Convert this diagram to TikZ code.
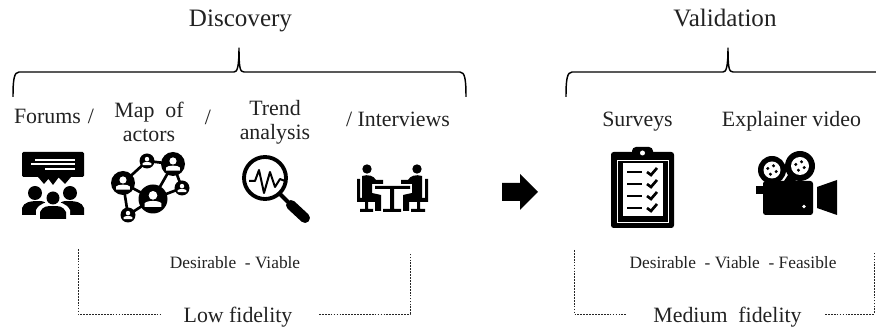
\documentclass[tikz,border=0pt]{standalone}
\usepackage{fontspec}
\setmainfont{Liberation Serif}
\usetikzlibrary{arrows.meta}
\definecolor{txt}{HTML}{222222}
\tikzset{
  x=0.75pt,y=-0.75pt,
  big/.style={font=\fontsize{18.8}{20}\selectfont,text=txt,inner sep=0pt,anchor=base},
  lab/.style={font=\fontsize{16.4}{18}\selectfont,text=txt,inner sep=0pt,align=center},
  fid/.style={font=\fontsize{16.4}{18}\selectfont,text=txt,inner sep=0pt,anchor=base},
  small/.style={font=\fontsize{13}{14}\selectfont,text=txt,inner sep=0pt,anchor=base},
  brace/.style={draw=black,line width=1.1pt,line join=round},
  dots/.style={draw=black!85,line width=0.7pt,dash pattern=on 1.3pt off 0.9pt},
  ink/.style={fill=black,draw=none},
  wht/.style={fill=white,draw=none},
  wl/.style={draw=white,line width=0.9pt},
  kl/.style={draw=black,line width=2pt},
}
\begin{document}
\begin{tikzpicture}
\useasboundingbox (0,0) rectangle (876,327);
% titles
\node[big] (disc) at (240.5,27) {Discovery};
\node[big] (valid) at (725,27) {Validation};
% braces
\coordinate (bl) at (13,97); \coordinate (br) at (466,97); \coordinate (bm) at (239,48);
\draw[brace] (bl) .. controls (13,80) and (14,72) .. (19,72) -- (234,72) .. controls (237,72) and (239,68) .. (bm) .. controls (239,68) and (240,72) .. (244,72) -- (460,72) .. controls (465,72) and (466,80) .. (br);
\coordinate (cl) at (566,97); \coordinate (cm) at (728,48); \coordinate (cr) at (876,72);
\draw[brace] (cl) .. controls (566,80) and (567,72) .. (572,72) -- (723,72) .. controls (726,72) and (728,68) .. (cm) .. controls (728,68) and (729,72) .. (733,72) -- (cr);
% labels
\node[lab,anchor=base] (l1) at (47.5,124) {Forums};
\node[lab,anchor=base] (s1) at (91,124) {/};
\node[lab] (l2) at (149,122) {Map\ \ of\\actors};
\node[lab,anchor=base] (s2) at (208,125) {/};
\node[lab] (l3) at (275,122.5) {Trend\\analysis};
\node[lab,anchor=base] (l4) at (398,127) {/ Interviews};
\node[lab,anchor=base] (l5) at (637.5,126.5) {Surveys};
\node[lab,anchor=base] (l6) at (791.5,126.5) {Explainer video};
% Forums icon
\fill[ink,rounded corners=1pt] (22,152) rectangle (84,177);
\fill[ink] (38,177) -- (44,184) -- (50,177) -- cycle (47,177) -- (53,185) -- (59,177) -- cycle (58,177) -- (65,184) -- (71,177) -- cycle;
\draw[wl] (35,160) -- (75,160) (31,164) -- (75,164) (45,169) -- (75,169);
\fill[ink] (35,193) circle (7); \fill[ink] (70,193) circle (7);
\fill[ink] (22,215) -- (22,208) .. controls (24,202) and (30,201) .. (40,201) .. controls (44,201) and (46,203) .. (48,205) -- (38,215) -- cycle;
\fill[ink] (84,215) -- (84,208) .. controls (82,202) and (76,201) .. (66,201) .. controls (62,201) and (60,203) .. (58,205) -- (68,215) -- cycle;
\fill[wht] (53,198) circle (9);
\fill[wht] (36,219) -- (36,210) .. controls (40,203) and (46,202) .. (53,202) .. controls (60,202) and (66,203) .. (70,210) -- (70,219) -- cycle;
\fill[ink] (53,198) circle (6.5);
\fill[ink] (40,219) -- (40,212) .. controls (43,206) and (47,206) .. (53,206) .. controls (59,206) and (63,206) .. (66,212) -- (66,219) -- cycle;
% Map of actors icon
\draw[kl] (123,183) -- (147,161) -- (173,164) -- (153,199) -- (128,215) -- (123,183) (123,183) -- (153,199) (173,164) -- (182,188) -- (153,199);
\foreach \px/\py/\pr in {123/183/12,147/161/7.5,173/164/12,182/188/7.5,153/199/14.5,128/215/7.5}{
  \fill[ink] (\px,\py) circle (\pr);
  \fill[wht] (\px,\py-0.25*\pr) circle (0.3*\pr);
  \fill[wht] (\px-0.58*\pr,\py+0.55*\pr) -- (\px-0.58*\pr,\py+0.3*\pr) .. controls (\px-0.45*\pr,\py+0.08*\pr) and (\px+0.45*\pr,\py+0.08*\pr) .. (\px+0.58*\pr,\py+0.3*\pr) -- (\px+0.58*\pr,\py+0.55*\pr) -- cycle;
}
% Trend icon
\draw[draw=black,line width=2.9pt] (265,178) circle (21);
\draw[line width=1.5pt,line join=round] (249,181) -- (255,181) -- (259,170) -- (264,193) -- (270,172) -- (275,187) -- (280,179) -- (285,181);
\draw[line width=3pt] (280,194) -- (288,202);
\draw[line width=7.5pt,line cap=round] (291,205) -- (305,218);
% Interviews icon
\fill[ink] (367,169) circle (4.7); \fill[ink] (417,169) circle (4.7);
\fill[ink] (362,176) .. controls (368,174) and (374,176) .. (376,180) -- (383,180) -- (383,184) -- (372,184) -- (372,193) -- (381,195) -- (381,211) -- (375,211) -- (375,198) -- (362,198) -- cycle;
\fill[ink] (357,179) rectangle (360,201) (357,198) rectangle (375,202);
\fill[ink] (365,202) rectangle (368,209) (360,209) rectangle (373,212);
\fill[ink] (422,176) .. controls (416,174) and (410,176) .. (408,180) -- (401,180) -- (401,184) -- (412,184) -- (412,193) -- (403,195) -- (403,211) -- (409,211) -- (409,198) -- (422,198) -- cycle;
\fill[ink] (428,179) rectangle (425,201) (428,198) rectangle (409,202);
\fill[ink] (420,202) rectangle (417,209) (425,209) rectangle (411,212);
\fill[ink] (375,186) rectangle (410,189) (390,189) rectangle (394,209) (383,209) rectangle (401,212);
% Arrow
\fill[ink] (502,183) -- (520,183) -- (520,174) -- (538,192) -- (520,210) -- (520,201) -- (502,201) -- cycle;
% Clipboard
\fill[ink,rounded corners=2pt] (611,152) rectangle (674,228);
\fill[ink,rounded corners=3pt] (632,147) rectangle (653,158);
\fill[wht] (642.5,153) circle (2.5);
\draw[white,line width=0.6pt] (617,160) rectangle (668,222);
\fill[wht] (623,163) rectangle (663,216);
\foreach \ty in {172,184,196,208}{
  \fill[ink] (627,\ty-1.2) rectangle (642,\ty+1.2);
  \draw[black,line width=2pt] (647,\ty) -- (651,\ty+3) -- (657,\ty-4);
}
% Camera
\fill[ink] (772,170) circle (14); \fill[ink] (800,166) circle (15);
\fill[wht] (772,170) circle (8.5); \fill[wht] (800,166) circle (9);
\foreach \cx/\cy in {772/170,800/166}{
  \foreach \ca in {0,90,180,270}{ \fill[ink] (\cx,\cy)++(\ca+20:4.5) circle (1.7); }
}
\fill[ink,rounded corners=2pt] (763,181) rectangle (813,215);
\fill[ink] (784,181) -- (790,172) -- (796,181) -- cycle;
\fill[ink] (756,186) rectangle (763,194);
\fill[wht] (804,206.5) circle (1.8);
\fill[ink] (817,187) -- (837,180) -- (837,215) -- (817,208) -- cycle;
% small text
\node[small] (d1) at (235,268.5) {Desirable\ \ - Viable};
\node[small] (d2) at (733,268.5) {Desirable\ \ - Viable\ \ - Feasible};
% fidelity
\node[fid] (f1) at (238,323) {Low fidelity};
\node[fid] (f2) at (727.5,323) {Medium\ \ fidelity};
% dotted
\coordinate (a1) at (78,249); \coordinate (a2) at (78,314); \coordinate (a3) at (160,314);
\coordinate (a4) at (319,314); \coordinate (a5) at (410,314); \coordinate (a6) at (410,253);
\draw[dots] (a1) -- (a2) -- (a3);
\draw[dots] (a4) -- (a5) -- (a6);
\coordinate (b1) at (574,250); \coordinate (b2) at (574,314); \coordinate (b3) at (626,314);
\coordinate (b4) at (825,314); \coordinate (b5) at (874,314); \coordinate (b6) at (874,252);
\draw[dots] (b1) -- (b2) -- (b3);
\draw[dots] (b4) -- (b5) -- (b6);
\end{tikzpicture}
\end{document}
